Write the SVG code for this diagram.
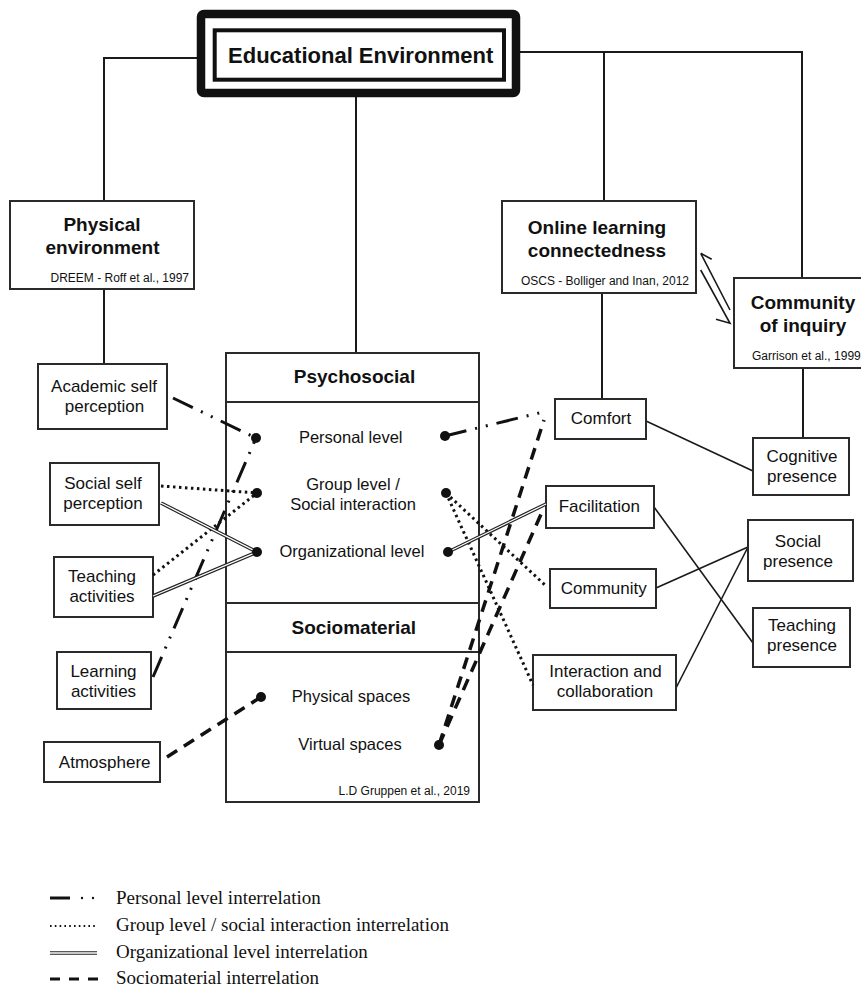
<svg xmlns="http://www.w3.org/2000/svg" xmlns:xlink="http://www.w3.org/1999/xlink" width="861" height="990" viewBox="0 0 861 990">
<style>
  .box{fill:#fff;stroke:#2a2a2a;stroke-width:2}
  .t{font-family:"Liberation Sans",Arial,sans-serif;font-size:17px;fill:#111;text-anchor:middle}
  .ti{font-family:"Liberation Sans",Arial,sans-serif;font-size:16.5px;fill:#111;text-anchor:middle}
  .tb{font-family:"Liberation Sans",Arial,sans-serif;font-size:19px;font-weight:bold;fill:#111;text-anchor:middle}
  .ts{font-family:"Liberation Sans",Arial,sans-serif;font-size:12px;fill:#111}
  .lg{font-family:"Liberation Serif","Times New Roman",serif;font-size:19px;fill:#111}
  .tree{fill:none;stroke:#1a1a1a;stroke-width:2}
  .solid{fill:none;stroke:#1a1a1a;stroke-width:1.6}
  .pers{fill:none;stroke:#111;stroke-width:3;stroke-dasharray:22 9 2 9 2 9}
  .grp{fill:none;stroke:#111;stroke-width:3;stroke-dasharray:2.5 3.5}
  .orgb{fill:none;stroke:#222;stroke-width:3.6}
  .orgw{fill:none;stroke:#fff;stroke-width:1.3}
  .soc{fill:none;stroke:#111;stroke-width:3.5;stroke-dasharray:12 8}
  .dot{fill:#111}
</style>

<g id="connectors">
  <!-- tree -->
  <path class="tree" d="M198 58 H104 V201"/>
  <path class="tree" d="M104 289 V364"/>
  <path class="tree" d="M520 52 H802 V278"/>
  <path class="tree" d="M604 52 V201"/>
  <path class="tree" d="M356 97 V353"/>
  <path class="tree" d="M602 293 V399"/>
  <path class="tree" d="M803 368 V438"/>
  <!-- harpoons between Online learning and Community of inquiry -->
  <path class="solid" d="M700.7 253.3 L730 310 M700.7 253.3 L711.7 259.3"/>
  <path class="solid" d="M700.7 270 L730 323.3 L716 319.3"/>
  <!-- right solid connectors -->
  <path class="solid" d="M646 421 L753 471"/>
  <path class="solid" d="M654 507 L753 643"/>
  <path class="solid" d="M656 588 L748 547"/>
  <path class="solid" d="M676 688 L748 547"/>
</g>

<g id="node-educational-environment">
  <rect x="201" y="14" width="315" height="79" rx="3" fill="#fff" stroke="#111" stroke-width="8.5"/>
  <rect x="214.7" y="30.3" width="289.3" height="49.4" fill="#fff" stroke="#111" stroke-width="4"/>
  <text x="360.7" y="62.7" font-family="Liberation Sans, Arial, sans-serif" font-size="22" font-weight="bold" fill="#111" text-anchor="middle">Educational Environment</text>
</g>

<g id="node-physical-environment">
  <rect class="box" x="10" y="201" width="184" height="88"/>
  <text class="tb" x="102" y="231">Physical</text>
  <text class="tb" x="102.5" y="254">environment</text>
  <text class="ts" x="189" y="282" text-anchor="end">DREEM - Roff et al., 1997</text>
</g>

<g id="node-online-learning">
  <rect class="box" x="502" y="201" width="194" height="92"/>
  <text class="tb" x="597" y="233.5">Online learning</text>
  <text class="tb" x="597" y="256.7">connectedness</text>
  <text class="ts" x="689" y="285" text-anchor="end">OSCS - Bolliger and Inan, 2012</text>
</g>

<g id="node-community-of-inquiry">
  <rect class="box" x="734" y="278" width="150" height="90"/>
  <text class="tb" x="803" y="309">Community</text>
  <text class="tb" x="803" y="332">of inquiry</text>
  <text class="ts" x="752" y="360" font-size="11">Garrison et al., 1999</text>
</g>

<g id="node-psychosocial">
  <rect class="box" x="226" y="353" width="253" height="449"/>
  <line class="box" x1="226" y1="402" x2="479" y2="402"/>
  <line class="box" x1="226" y1="603" x2="479" y2="603"/>
  <line class="box" x1="226" y1="652" x2="479" y2="652"/>
  <text class="tb" x="354.5" y="382.7">Psychosocial</text>
  <text class="ti" x="350.7" y="443.3">Personal level</text>
  <text class="ti" x="353" y="490">Group level /</text>
  <text class="ti" x="353" y="510">Social interaction</text>
  <text class="ti" x="352" y="557.3">Organizational level</text>
  <text class="tb" x="353.8" y="634">Sociomaterial</text>
  <text class="ti" x="351" y="701.7">Physical spaces</text>
  <text class="ti" x="350" y="750">Virtual spaces</text>
  <text class="ts" x="470" y="795" text-anchor="end">L.D Gruppen et al., 2019</text>
</g>

<g id="node-academic-self-perception">
  <rect class="box" x="38" y="364" width="129" height="65"/>
  <text class="t" x="104" y="392.3">Academic self</text>
  <text class="t" x="104.5" y="411.7">perception</text>
</g>
<g id="node-social-self-perception">
  <rect class="box" x="50" y="463" width="109" height="62"/>
  <text class="t" x="103" y="489">Social self</text>
  <text class="t" x="103" y="509">perception</text>
</g>
<g id="node-teaching-activities">
  <rect class="box" x="54" y="557" width="99" height="60"/>
  <text class="t" x="102" y="581.7">Teaching</text>
  <text class="t" x="102" y="601.7">activities</text>
</g>
<g id="node-learning-activities">
  <rect class="box" x="57" y="652" width="94" height="57"/>
  <text class="t" x="103.5" y="677.3">Learning</text>
  <text class="t" x="103.5" y="696.7">activities</text>
</g>
<g id="node-atmosphere">
  <rect class="box" x="44" y="742" width="116" height="40"/>
  <text class="t" x="104.7" y="767.7">Atmosphere</text>
</g>

<g id="node-comfort">
  <rect class="box" x="555" y="399" width="91" height="40"/>
  <text class="t" x="601" y="424.3">Comfort</text>
</g>
<g id="node-facilitation">
  <rect class="box" x="546" y="486" width="108" height="42"/>
  <text class="t" x="599.3" y="512.3">Facilitation</text>
</g>
<g id="node-community">
  <rect class="box" x="550" y="569" width="106" height="39"/>
  <text class="t" x="603.8" y="594">Community</text>
</g>
<g id="node-interaction-collaboration">
  <rect class="box" x="533" y="655" width="143" height="55"/>
  <text class="t" x="605.5" y="677.3">Interaction and</text>
  <text class="t" x="605" y="696.7">collaboration</text>
</g>
<g id="node-cognitive-presence">
  <rect class="box" x="753" y="438" width="96" height="57"/>
  <text class="t" x="802" y="461.7">Cognitive</text>
  <text class="t" x="802" y="481.7">presence</text>
</g>
<g id="node-social-presence">
  <rect class="box" x="748" y="520" width="105" height="61"/>
  <text class="t" x="798" y="546.7">Social</text>
  <text class="t" x="798" y="566.7">presence</text>
</g>
<g id="node-teaching-presence">
  <rect class="box" x="753" y="608" width="97" height="59"/>
  <text class="t" x="802" y="630.7">Teaching</text>
  <text class="t" x="802" y="650.7">presence</text>
</g>

<g id="interrelations">
  <!-- personal level -->
  <path class="pers" d="M173 398 L256 438"/>
  <path class="pers" d="M153 677 L256 438"/>
  <path class="pers" d="M445 436 L543 412"/>
  <!-- group level -->
  <path class="grp" d="M161 486 L257 493"/>
  <path class="grp" d="M153 575 L257 493"/>
  <path class="grp" d="M446 493 L545 585"/>
  <path class="grp" d="M446 493 L533 685"/>
  <!-- organizational level -->
  <path class="orgb" d="M161 503 L257 552"/><path class="orgw" d="M161 503 L257 552"/>
  <path class="orgb" d="M153 596 L257 552"/><path class="orgw" d="M153 596 L257 552"/>
  <path class="orgb" d="M448 552 L546 504"/><path class="orgw" d="M448 552 L546 504"/>
  <!-- sociomaterial -->
  <path class="soc" d="M167 757 L261 697"/>
  <path class="soc" d="M439 745 L544 420"/>
  <path class="soc" d="M439 745 L542 512"/>
  <!-- dots -->
  <circle class="dot" cx="256" cy="438" r="5"/>
  <circle class="dot" cx="257" cy="493" r="5"/>
  <circle class="dot" cx="257" cy="552" r="5"/>
  <circle class="dot" cx="261" cy="697" r="5"/>
  <circle class="dot" cx="445" cy="436" r="5"/>
  <circle class="dot" cx="446" cy="493" r="5"/>
  <circle class="dot" cx="448" cy="552" r="5"/>
  <circle class="dot" cx="439" cy="745" r="5"/>
</g>

<g id="legend">
  <line x1="50" y1="898" x2="70" y2="898" stroke="#111" stroke-width="3"/>
  <circle cx="82" cy="898" r="1.2" fill="#111"/>
  <circle cx="93" cy="898" r="1.2" fill="#111"/>
  <line x1="50" y1="926" x2="97" y2="926" stroke="#111" stroke-width="2" stroke-dasharray="1.6 3.2"/>
  <line x1="50" y1="953" x2="97" y2="953" stroke="#222" stroke-width="3.4"/>
  <line x1="50" y1="953" x2="97" y2="953" stroke="#fff" stroke-width="1.3"/>
  <line x1="50" y1="979" x2="98" y2="979" stroke="#111" stroke-width="3" stroke-dasharray="10 9"/>
  <text class="lg" x="116" y="903.5">Personal level interrelation</text>
  <text class="lg" x="116" y="931">Group level / social interaction interrelation</text>
  <text class="lg" x="116" y="958">Organizational level interrelation</text>
  <text class="lg" x="116" y="984">Sociomaterial interrelation</text>
</g>
</svg>
